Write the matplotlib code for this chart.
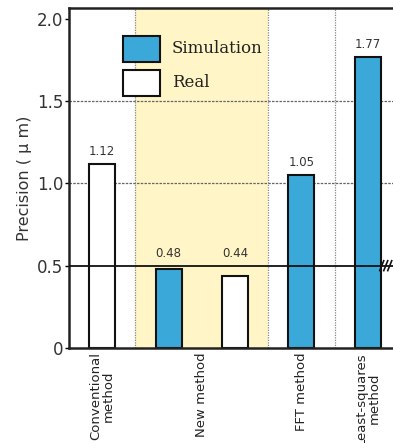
import matplotlib
matplotlib.use("Agg")
import matplotlib.pyplot as plt
from matplotlib.patches import Rectangle
from matplotlib.lines import Line2D
from matplotlib.transforms import offset_copy

# Data
categories = ["Conventional\nmethod", "New method", "FFT method", "Least-squares\nmethod"]
bar_labels = ["Conventional", "New (sim)", "New (real)", "FFT", "Least-squares"]
bar_values = [1.12, 0.48, 0.44, 1.05, 1.77]
bar_kind = ["Real", "Simulation", "Real", "Simulation", "Simulation"]
yticks = [0, 0.5, 1.0, 1.5, 2.0]
ytick_labels = ["0", "0.5", "1.0", "1.5", "2.0"]

bar_pos = [0.5, 1.5, 2.5, 3.5, 4.5]
cat_pos = [0.5, 2.0, 3.5, 4.5]
separators = [1, 3, 4]
ref_line = 0.5

BLUE = "#3aa9da"
YELLOW = "#fff5c6"

W, H = 393, 443
fig = plt.figure(figsize=(W / 100, H / 100), dpi=100)
x0, x1 = 69, 401
y0, y1 = 348, 8
ax = fig.add_axes([x0 / W, 1 - y0 / H, (x1 - x0) / W, (y0 - y1) / H])
ax.set_xlim(0, 5)
ax.set_ylim(0, 2.065)

ax.axvspan(1, 3, color=YELLOW, zorder=0, lw=0)
for s in separators:
    ax.axvline(s, color="#888888", lw=0.9, ls=(0, (1, 1)), zorder=1)
for g in [1.0, 1.5]:
    ax.axhline(g, color="#666666", lw=0.9, ls=(0, (2, 1)), zorder=1)

for p, v, k in zip(bar_pos, bar_values, bar_kind):
    ax.bar(p, v, width=0.39, color=BLUE if k == "Simulation" else "white",
           edgecolor="#111111", lw=1.5, zorder=2)
    ax.text(p, max(v, ref_line) + 0.035, f"{v:.2f}", ha="center", va="bottom",
            fontsize=8.5, color="#333333", family="DejaVu Sans", zorder=4)

ax.axhline(ref_line, color="#111111", lw=1.3, zorder=3)
# break mark (three short slanted strokes)
for dx in [-4, 0, 4]:
    tr = offset_copy(ax.transData, fig=fig, x=dx, y=0, units="dots")
    ax.add_line(Line2D([4.74, 4.80], [0.47, 0.53], color="#111111",
                       lw=1.2, transform=tr, zorder=4, clip_on=False))

for sp in ["left", "bottom", "top"]:
    ax.spines[sp].set_linewidth(1.8)
    ax.spines[sp].set_color("#222222")
ax.spines["right"].set_visible(False)

ax.set_yticks(yticks)
ax.set_yticklabels(ytick_labels, fontsize=12, color="#333333", family="DejaVu Sans")
ax.tick_params(axis="y", length=3, width=1, pad=1, direction="out")
ax.set_xticks(cat_pos)
ax.set_xticklabels(categories, rotation=90, fontsize=9.5, color="#222222",
                   va="top", ha="center", linespacing=1.0, family="DejaVu Sans")
ax.tick_params(axis="x", length=0, pad=3)
ax.set_ylabel("Precision ( μ m)", fontsize=11.5, color="#333333", labelpad=4,
              family="DejaVu Sans")

# legend
ax.add_patch(Rectangle((0.82, 1.74), 0.55, 0.152, facecolor=BLUE, edgecolor="#111111",
                       lw=1.5, zorder=5))
ax.add_patch(Rectangle((0.82, 1.53), 0.55, 0.158, facecolor="white", edgecolor="#111111",
                       lw=1.5, zorder=5))
ax.text(1.55, 1.82, "Simulation", fontsize=12, family="DejaVu Serif", va="center",
        color="#222222", zorder=5)
ax.text(1.55, 1.61, "Real", fontsize=12, family="DejaVu Serif", va="center",
        color="#222222", zorder=5)

fig.savefig("out.png", dpi=100)
